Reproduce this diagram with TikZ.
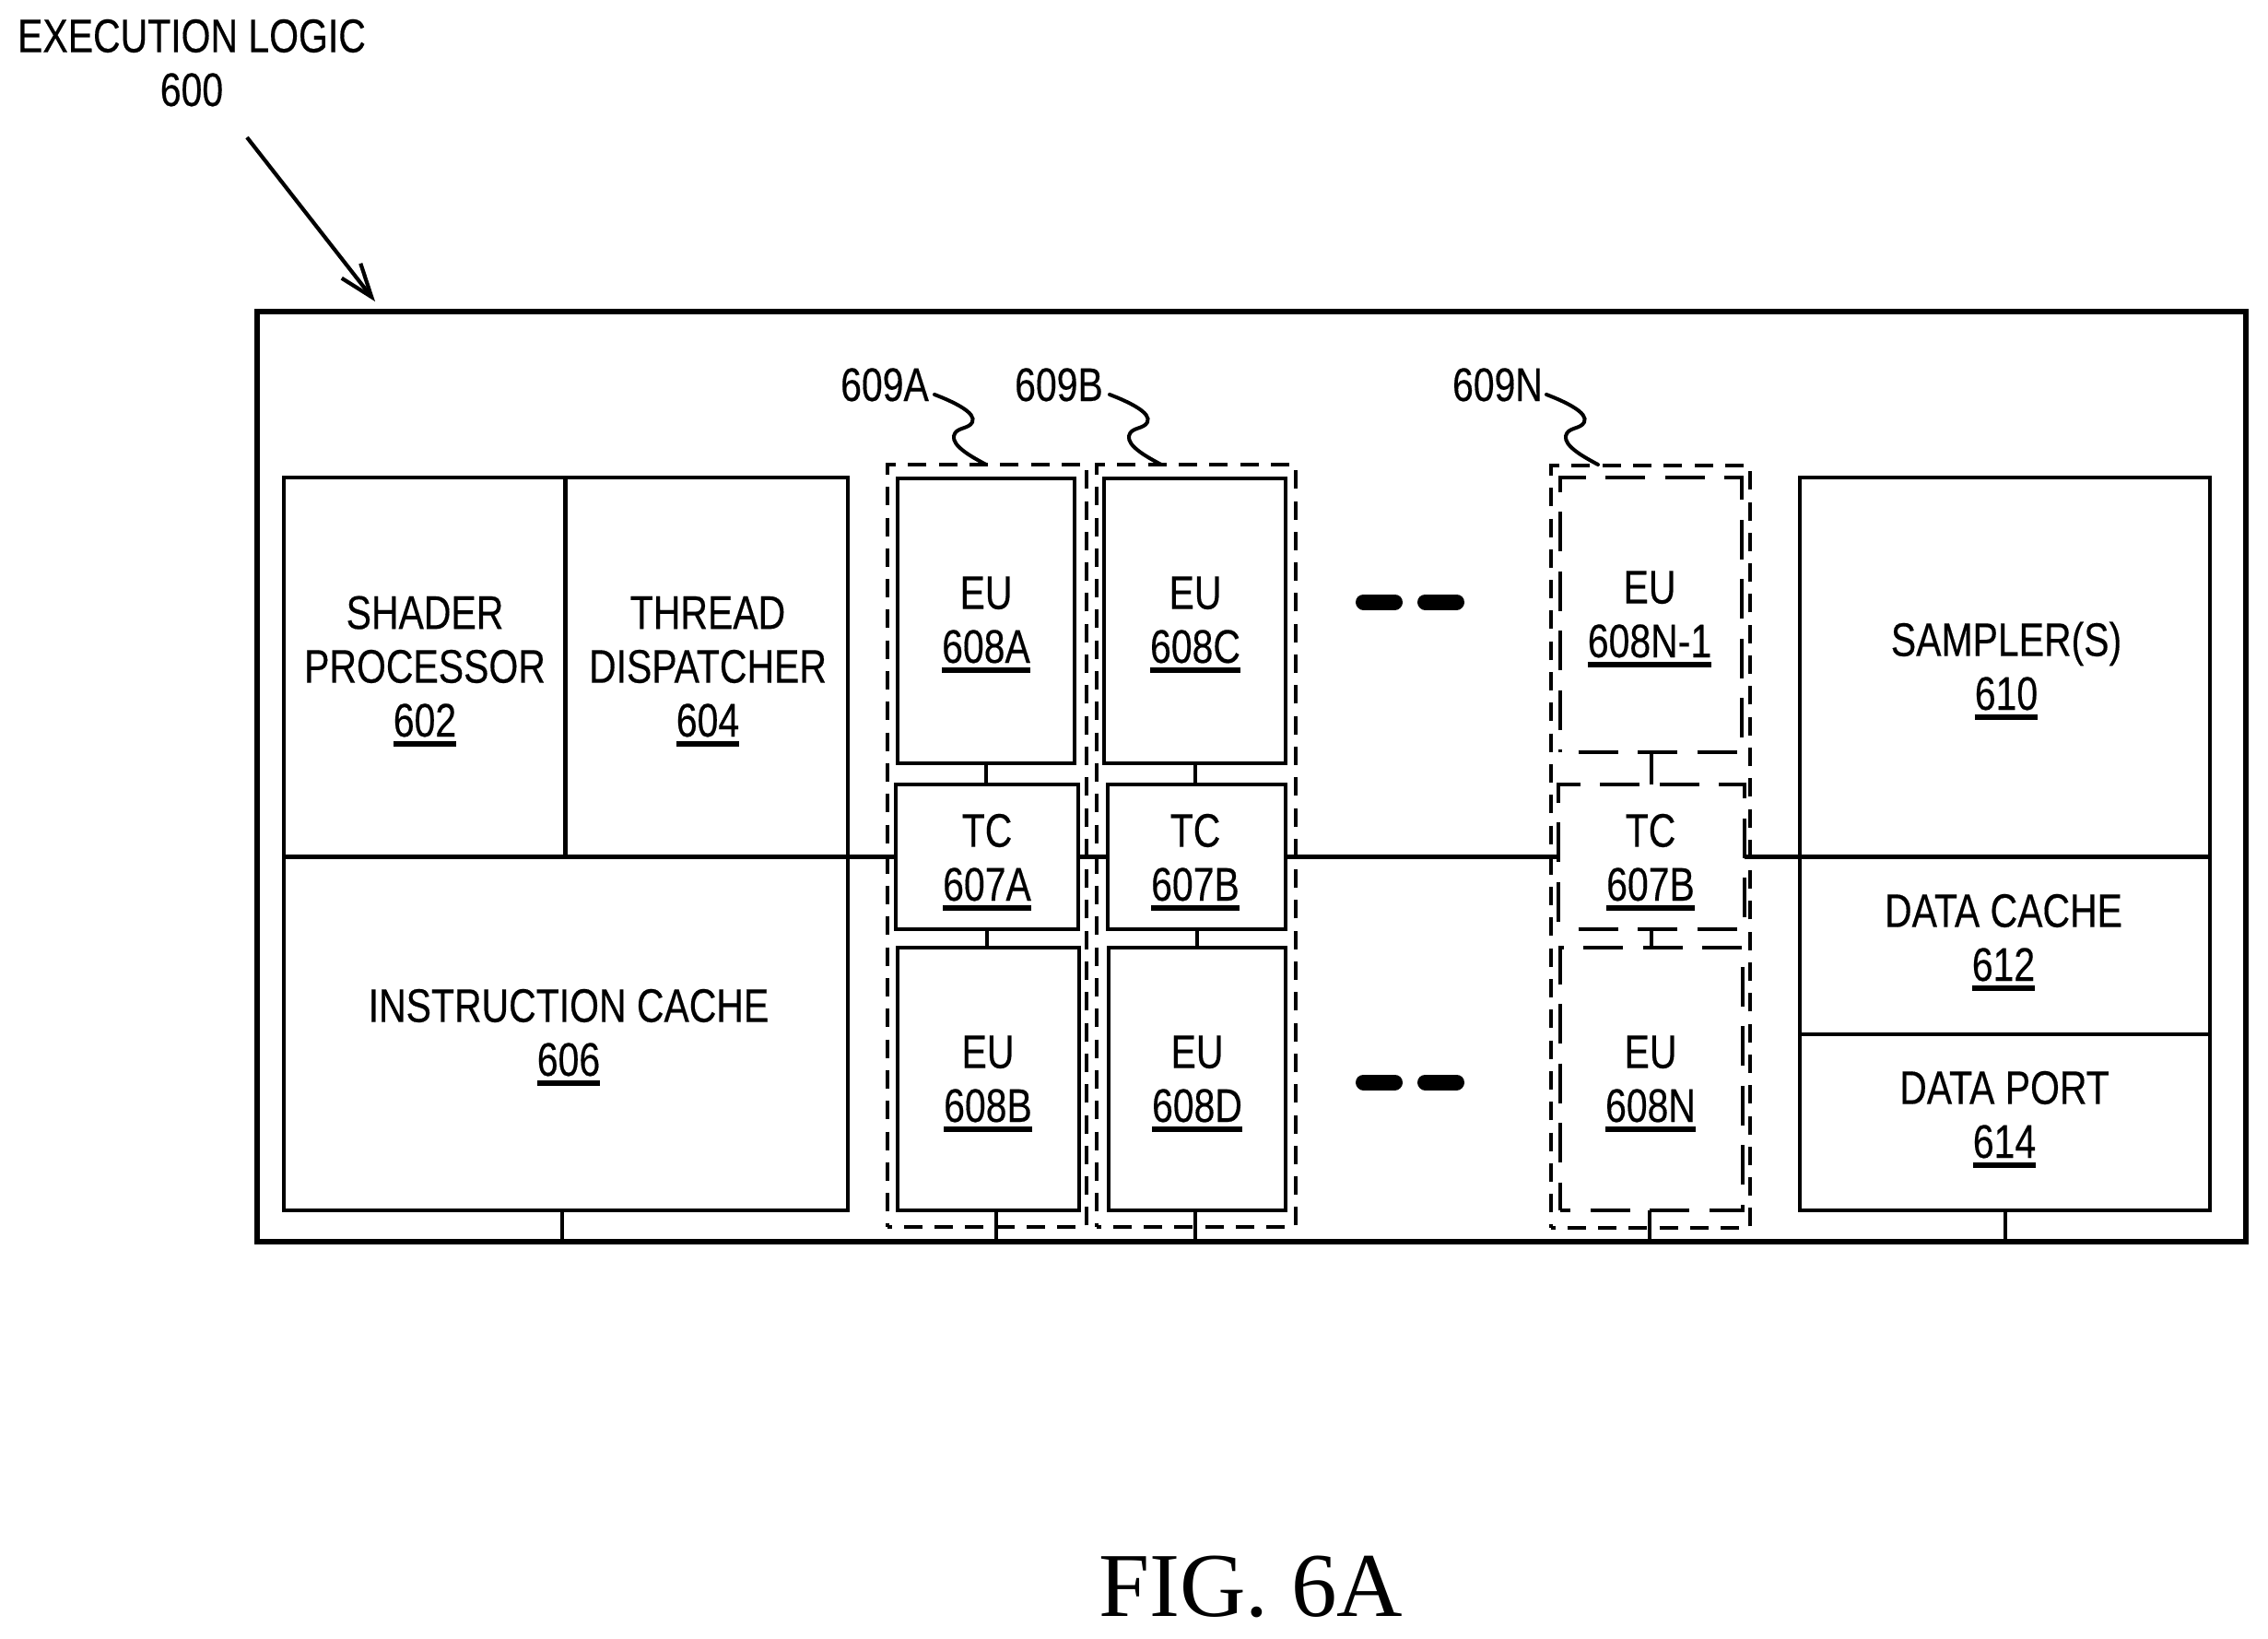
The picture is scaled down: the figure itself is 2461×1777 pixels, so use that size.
\documentclass[tikz,border=0pt]{standalone}
\usepackage{fontspec}
\setmainfont[FakeStretch=0.80,FakeBold=0.3]{Liberation Sans}
\newfontfamily\figfont{Liberation Serif}
\usetikzlibrary{arrows.meta,calc}
\newcommand{\ulnum}[1]{\setbox0=\hbox{#1}\rlap{\rule[-5.5pt]{\wd0}{3pt}}\box0}
\tikzset{
  x=0.5pt,y=-0.5pt,
  framebox/.style={draw=black,line width=3.25pt,inner sep=0pt,outer sep=0pt},
  unitbox/.style={draw=black,line width=2.4pt,inner sep=0pt,outer sep=0pt},
  groupbox/.style={draw=black,line width=2.1pt,inner sep=0pt,outer sep=0pt,dash pattern=on 10pt off 6.65pt,dash phase=7.75pt},
  ghostbox/.style={draw=black,line width=2.4pt,inner sep=0pt,outer sep=0pt,dash pattern=on 21.5pt off 10.75pt},
  txt/.style={anchor=base,align=center,inner sep=0pt,font=\fontsize{25.6}{29.2}\selectfont},
  bus/.style={draw=black,line width=2.4pt},
  link/.style={draw=black,line width=2pt},
  lead/.style={draw=black,line width=2pt,line cap=round},
  dots/.style={draw=black,line width=8.5pt,line cap=round},
  pointer/.style={draw=black,line width=2.1pt,-{Straight Barb[length=18pt,width=13pt,line width=2.1pt]}},
}
\newcommand{\bx}[6]{\node[#1,minimum width={(#5-#3)*0.5pt},minimum height={(#6-#4)*0.5pt}] (#2) at ({(#3+#5)/2},{(#4+#6)/2}) {};}
\newcommand{\tl}[4]{\node[txt] (#1) at (#2,#3) {#4};}
\newcommand{\squig}[2]{\begin{scope}[shift={(#2,0)}]
  \coordinate (s#1) at (1014,428); \coordinate (e#1) at (1070,504);
  \draw[lead] (s#1) .. controls (1035,436) and (1060,448) .. (1055,458)
     .. controls (1051,466) and (1037,463) .. (1035,473)
     .. controls (1033,484) and (1055,496) .. (e#1);
  \end{scope}}
\begin{document}
\begin{tikzpicture}
\useasboundingbox (0,0) rectangle (2461,1777);
\bx{framebox}{frame}{279}{338}{2437}{1347}
\bx{unitbox}{shader}{308}{518}{613.5}{929.5}
\bx{unitbox}{thread}{613.5}{518}{920}{929.5}
\bx{unitbox}{icache}{308}{929.5}{920}{1313}
\bx{unitbox}{sampler}{1953}{518}{2398}{929.5}
\bx{unitbox}{dcache}{1953}{929.5}{2398}{1122}
\bx{unitbox}{dport}{1953}{1122}{2398}{1313}
\bx{unitbox}{euA}{974}{519}{1166}{828}
\bx{unitbox}{tcA}{972}{851}{1170}{1008}
\bx{unitbox}{euB}{974}{1028}{1171}{1313}
\bx{unitbox}{euC}{1198}{519}{1395}{828}
\bx{unitbox}{tcB}{1202}{851}{1395}{1008}
\bx{unitbox}{euD}{1203}{1028}{1395}{1313}
\bx{groupbox}{gA}{963}{504}{1179}{1331}
\bx{groupbox}{gB}{1190}{504}{1406}{1331}
\bx{groupbox}{gN}{1683}{505}{1899}{1332}
\bx{ghostbox,dash phase=22.5pt}{euM}{1693}{518}{1890}{816}
\bx{ghostbox,dash phase=21.5pt}{tcN}{1691}{851}{1893}{1008}
\bx{ghostbox,dash phase=16pt}{euN}{1693}{1028}{1891}{1313}
% labels
\tl{tlogic}{208}{115}{EXECUTION LOGIC\\600}
\tl{tshader}{461}{799}{SHADER\\PROCESSOR\\\ulnum{602}}
\tl{tthread}{768}{799}{THREAD\\DISPATCHER\\\ulnum{604}}
\tl{ticache}{617}{1167}{INSTRUCTION CACHE\\\ulnum{606}}
\tl{teuA}{1070}{719}{EU\\\ulnum{608A}}
\tl{ttcA}{1071}{977}{TC\\\ulnum{607A}}
\tl{teuB}{1072}{1217}{EU\\\ulnum{608B}}
\tl{teuC}{1297}{719}{EU\\\ulnum{608C}}
\tl{ttcB}{1297}{977}{TC\\\ulnum{607B}}
\tl{teuD}{1299}{1217}{EU\\\ulnum{608D}}
\tl{teuM}{1790}{713}{EU\\\ulnum{608N-1}}
\tl{ttcN}{1791}{977}{TC\\\ulnum{607B}}
\tl{teuN}{1791}{1217}{EU\\\ulnum{608N}}
\tl{tsampler}{2177}{770}{SAMPLER(S)\\\ulnum{610}}
\tl{tdcache}{2174}{1064}{DATA CACHE\\\ulnum{612}}
\tl{tdport}{2175}{1256}{DATA PORT\\\ulnum{614}}
\tl{lA}{960}{435}{609A}
\tl{lB}{1149}{435}{609B}
\tl{lN}{1625}{435}{609N}
\node[anchor=base,inner sep=0pt,font=\figfont\fontsize{49.5}{55}\selectfont] (figcap) at (1357.5,1753) {FIG. 6A};
% pointer
\coordinate (ptrS) at (268,149);
\coordinate (ptrE) at (407,327);
\draw[pointer] (ptrS) -- (ptrE);
% squiggles
\squig{A}{0}
\squig{B}{190}
\squig{N}{664}
% bus
\draw[bus] (icache.north east) -- (tcA.west);
\draw[bus] (tcA.east) -- (tcB.west);
\draw[bus] (tcB.east) -- (tcN.west);
\draw[bus] (tcN.east) -- (sampler.south west);
% links between units
\draw[link] (euA.south) -- (euA.south |- tcA.north);
\draw[link] (tcA.south) -- (tcA.south |- euB.north);
\draw[link] (euC.south) -- (euC.south |- tcB.north);
\draw[link] (tcB.south) -- (tcB.south |- euD.north);
\draw[link] (euM.south) -- (euM.south |- tcN.north);
\draw[link] (tcN.south) -- (tcN.south |- euN.north);
% links to frame
\draw[link] ([xshift=-2pt]icache.south) -- ([xshift=-2pt]icache.south |- frame.south);
\draw[link] ([xshift=4.25pt]euB.south) -- ([xshift=4.25pt]euB.south |- frame.south);
\draw[link] ([xshift=-1pt]euD.south) -- ([xshift=-1pt]euD.south |- frame.south);
\draw[link] ([xshift=-1pt]euN.south) -- ([xshift=-1pt]euN.south |- frame.south);
\draw[link] (dport.south) -- (dport.south |- frame.south);
% ellipsis bars
\draw[dots] (1479.5,653) -- (1513.5,653);
\draw[dots] (1546.5,653) -- (1580.5,653);
\draw[dots] (1479.5,1174) -- (1513.5,1174);
\draw[dots] (1546.5,1174) -- (1580.5,1174);
\end{tikzpicture}
\end{document}
